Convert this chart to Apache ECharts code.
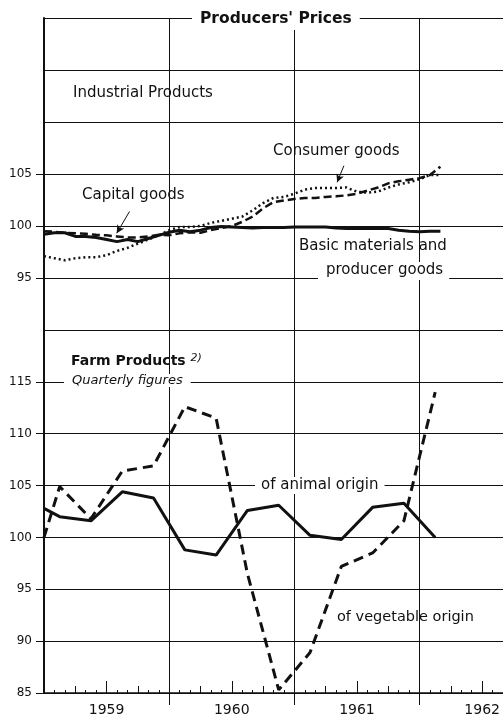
<!DOCTYPE html>
<html>
<head>
<meta charset="utf-8">
<script src="https://cdn.jsdelivr.net/npm/echarts@6.0.0/dist/echarts.min.js"></script>
<style>
  html, body { margin: 0; padding: 0; background: #fff; }
  #main { width: 503px; height: 719px; }
</style>
</head>
<body>
<div id="main"></div>
<script>
// months counted from Jan 1959 (0 = start of 1959)
var years = ['1959', '1960', '1961', '1962'];

// Industrial products, monthly, Jan 1959 .. Mar 1962
var basicMaterials = [99.2, 99.35, 99.35, 99.0, 99.0, 98.9, 98.7, 98.5, 98.7, 98.5, 98.8, 99.1,
  99.4, 99.6, 99.45, 99.6, 99.85, 99.95, 99.9, 99.85, 99.8, 99.85, 99.85, 99.85,
  99.9, 99.9, 99.9, 99.9, 99.8, 99.75, 99.75, 99.75, 99.75, 99.75, 99.6, 99.5,
  99.45, 99.5, 99.5];
var capitalGoods = [99.5, 99.45, 99.35, 99.3, 99.25, 99.15, 99.1, 99.0, 98.9, 98.9, 99.0, 99.15,
  99.1, 99.3, 99.4, 99.35, 99.6, 99.8, 100.0, 100.4, 100.9, 101.7, 102.3, 102.45,
  102.6, 102.7, 102.7, 102.8, 102.85, 102.95, 103.1, 103.4, 103.7, 104.1, 104.3, 104.45,
  104.6, 104.9, 105.7];
var consumerGoods = [97.1, 96.9, 96.7, 96.9, 97.0, 97.0, 97.2, 97.6, 97.9, 98.3, 98.7, 99.1,
  99.6, 99.9, 99.9, 100.0, 100.3, 100.5, 100.7, 100.9, 101.5, 102.2, 102.7, 102.8,
  103.1, 103.5, 103.65, 103.65, 103.65, 103.7, 103.3, 103.2, 103.3, 103.7, 104.0, 104.2,
  104.5, 104.9, 104.9];

// Farm products, quarterly (first value = where the line enters at the axis)
var farmMonths = [0, 1.5, 4.5, 7.5, 10.5, 13.5, 16.5, 19.5, 22.5, 25.5, 28.5, 31.5, 34.5, 37.5];
var animalOrigin = [102.8, 102.0, 101.6, 104.4, 103.8, 98.8, 98.3, 102.6, 103.1, 100.2, 99.8, 102.9, 103.3, 100.0];
var vegetableOrigin = [100.0, 104.9, 101.8, 106.4, 106.9, 112.6, 111.5, 96.5, 85.3, 88.9, 97.2, 98.5, 101.6, 114.0];

var topTicks = [95, 100, 105];
var bottomTicks = [85, 90, 95, 100, 105, 110, 115];

function monthly(arr) {
  return arr.map(function (v, i) { return [i, v]; });
}
function quarterly(arr) {
  return arr.map(function (v, i) { return [farmMonths[i], v]; });
}

var FONT = 'DejaVu Sans';
var INK = '#111';

// plain x axis used only for ticks in the lower panel
function tickAxis(step, len) {
  return {
    gridIndex: 1, type: 'value', position: 'bottom', offset: 0, min: 0, max: 44, interval: step,
    axisLine: { show: false, onZero: false },
    axisTick: { show: true, inside: true, length: len, lineStyle: { color: INK, width: 1 } },
    axisLabel: { show: false }, splitLine: { show: false }
  };
}

var myChart = echarts.init(document.getElementById('main'));

var option = {
  animation: false,
  backgroundColor: '#fff',
  textStyle: { fontFamily: FONT, color: INK },
  grid: [
    { left: 44, right: 0, top: 18, height: 312, outerBoundsMode: 'none' },
    { left: 44, right: 0, top: 330, height: 363, outerBoundsMode: 'none' }
  ],
  xAxis: [
    {
      gridIndex: 0, type: 'value', position: 'bottom', min: 0, max: 44, interval: 12,
      axisLine: { show: false }, axisTick: { show: false }, axisLabel: { show: false },
      splitLine: { show: true, lineStyle: { color: INK, width: 1 } }
    },
    {
      gridIndex: 1, type: 'value', position: 'bottom', offset: 0, min: 0, max: 44, interval: 12,
      axisLine: { show: true, onZero: false, lineStyle: { color: INK, width: 1.5 } },
      axisTick: { show: true, customValues: [12, 24, 36], length: 12, lineStyle: { color: INK, width: 1 } },
      axisLabel: { show: false },
      splitLine: { show: true, lineStyle: { color: INK, width: 1 } }
    },
    tickAxis(1, 3),
    tickAxis(3, 7),
    {
      gridIndex: 1, type: 'value', position: 'bottom', offset: 0, min: 0, max: 44, interval: 6,
      axisLine: { show: false, onZero: false },
      axisTick: { show: true, inside: true, length: 12, lineStyle: { color: INK, width: 1 } },
      axisLabel: {
        show: true, margin: 10, fontSize: 14, color: INK, fontFamily: FONT,
        formatter: function (v) {
          return v % 12 === 6 ? years[(v - 6) / 12] : '';
        }
      },
      splitLine: { show: false }
    }
  ],
  yAxis: [
    {
      gridIndex: 0, type: 'value', position: 'left', min: 90, max: 120, interval: 5,
      axisLine: { show: true, onZero: false, lineStyle: { color: INK, width: 2 } },
      axisTick: { show: false }, axisLabel: { show: false },
      splitLine: { show: true, lineStyle: { color: INK, width: 1 } }
    },
    {
      gridIndex: 0, type: 'value', position: 'left', offset: 0, min: 90, max: 120, interval: 5,
      axisLine: { show: false, onZero: false },
      axisTick: { show: true, customValues: topTicks, length: 8, lineStyle: { color: INK } },
      axisLabel: { customValues: topTicks, fontSize: 12, color: INK, margin: 12, fontFamily: FONT },
      splitLine: { show: false }
    },
    {
      gridIndex: 1, type: 'value', position: 'left', min: 85, max: 120, interval: 5,
      axisLine: { show: true, onZero: false, lineStyle: { color: INK, width: 2 } },
      axisTick: { show: false }, axisLabel: { show: false },
      splitLine: { show: true, lineStyle: { color: INK, width: 1 } }
    },
    {
      gridIndex: 1, type: 'value', position: 'left', offset: 0, min: 85, max: 120, interval: 5,
      axisLine: { show: false, onZero: false },
      axisTick: { show: true, customValues: bottomTicks, length: 8, lineStyle: { color: INK } },
      axisLabel: { customValues: bottomTicks, fontSize: 12, color: INK, margin: 12, fontFamily: FONT },
      splitLine: { show: false }
    }
  ],
  series: [
    {
      name: 'Basic materials and producer goods', type: 'line', xAxisIndex: 0, yAxisIndex: 0,
      data: monthly(basicMaterials), symbol: 'none',
      lineStyle: { color: INK, width: 3 }
    },
    {
      name: 'Capital goods', type: 'line', xAxisIndex: 0, yAxisIndex: 0,
      data: monthly(capitalGoods), symbol: 'none',
      lineStyle: { color: INK, width: 2.5, type: [8, 4] },
      markLine: {
        silent: true, symbol: ['none', 'arrow'], symbolSize: [6, 8],
        label: { show: false },
        lineStyle: { color: INK, width: 1, type: 'solid' },
        data: [[{ coord: [8.2, 101.4] }, { coord: [6.97, 99.3] }]]
      }
    },
    {
      name: 'Consumer goods', type: 'line', xAxisIndex: 0, yAxisIndex: 0,
      data: monthly(consumerGoods), symbol: 'none',
      lineStyle: { color: INK, width: 2.5, type: [2, 3] },
      markLine: {
        silent: true, symbol: ['none', 'arrow'], symbolSize: [6, 8],
        label: { show: false },
        lineStyle: { color: INK, width: 1, type: 'solid' },
        data: [[{ coord: [28.75, 105.8] }, { coord: [28.1, 104.2] }]]
      }
    },
    {
      name: 'of animal origin', type: 'line', xAxisIndex: 1, yAxisIndex: 2,
      data: quarterly(animalOrigin), symbol: 'none',
      lineStyle: { color: INK, width: 3 }
    },
    {
      name: 'of vegetable origin', type: 'line', xAxisIndex: 1, yAxisIndex: 2,
      data: quarterly(vegetableOrigin), symbol: 'none',
      lineStyle: { color: INK, width: 3, type: [10, 6] }
    }
  ],
  graphic: [
    {
      type: 'text', left: 192, top: 8, z: 100,
      style: {
        text: "Producers' Prices", fontSize: 15.5, fontWeight: 'bold', fontFamily: FONT,
        fill: INK, backgroundColor: '#fff', padding: [3, 8]
      }
    },
    { type: 'text', left: 73, top: 86, style: { text: 'Industrial Products', fontSize: 15, fontFamily: FONT, fill: INK } },
    { type: 'text', left: 273, top: 144, style: { text: 'Consumer goods', fontSize: 15, fontFamily: FONT, fill: INK } },
    { type: 'text', left: 82, top: 188, style: { text: 'Capital goods', fontSize: 15, fontFamily: FONT, fill: INK } },
    { type: 'text', left: 299, top: 239, style: { text: 'Basic materials and', fontSize: 15, fontFamily: FONT, fill: INK } },
    {
      type: 'text', left: 318, top: 262, z: 100,
      style: { text: 'producer goods', fontSize: 15, fontFamily: FONT, fill: INK, backgroundColor: '#fff', padding: [1, 6, 2, 8] }
    },
    {
      type: 'text', left: 71, top: 353,
      style: {
        text: '{a|Farm Products }{b|2)}',
        rich: {
          a: { fontSize: 14, fontFamily: FONT, fill: INK, fontWeight: 'bold' },
          b: { fontSize: 11, fontFamily: FONT, fontStyle: 'italic', fill: INK, verticalAlign: 'top', padding: [0, 0, 6, 0] }
        }
      }
    },
    {
      type: 'text', left: 64, top: 374, z: 100,
      style: { text: 'Quarterly figures', fontSize: 13, fontStyle: 'italic', fontFamily: FONT, fill: INK, backgroundColor: '#fff', padding: [0, 8] }
    },
    {
      type: 'text', left: 255, top: 477, z: 100,
      style: { text: 'of animal origin', fontSize: 15, fontFamily: FONT, fill: INK, backgroundColor: '#fff', padding: [1, 6] }
    },
    { type: 'text', left: 337, top: 610, style: { text: 'of vegetable origin', fontSize: 14.5, fontFamily: FONT, fill: INK } }
  ]
};

myChart.setOption(option);
</script>
</body>
</html>
